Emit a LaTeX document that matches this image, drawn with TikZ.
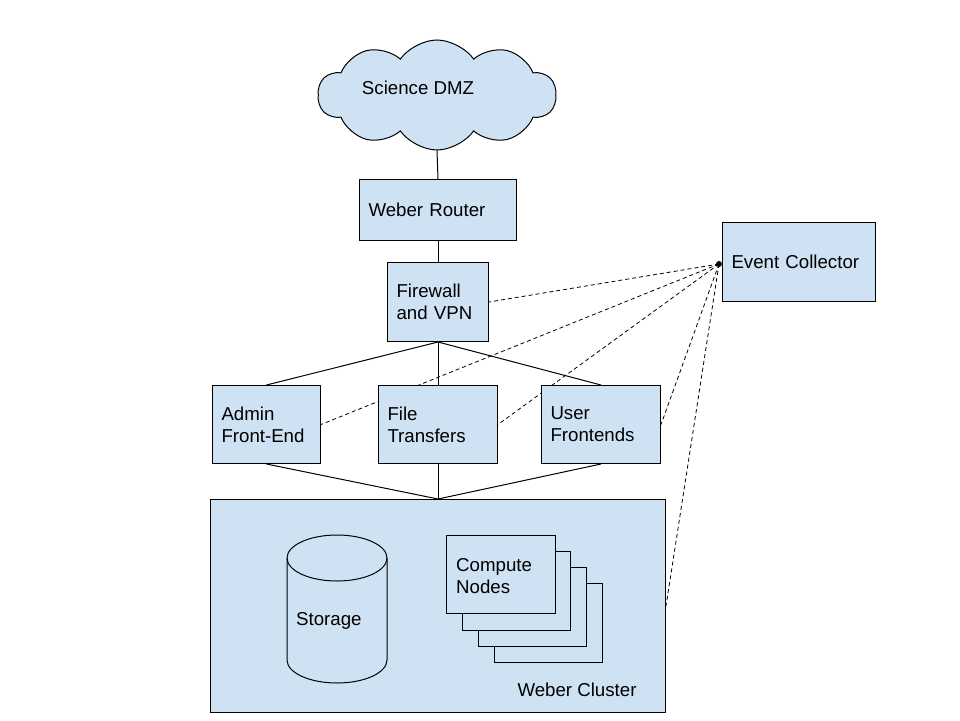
\documentclass[tikz,border=0pt]{standalone}
\usepackage{fontspec}
\setmainfont{Liberation Sans}
\usetikzlibrary{shapes.symbols,backgrounds}
\definecolor{boxblue}{HTML}{CFE2F3}
\begin{document}
\begin{tikzpicture}[x=1pt,y=-1pt,
  every node/.style={font=\fontsize{18.67}{22}\selectfont},
  box/.style={draw=black, fill=boxblue, line width=1pt, inner xsep=9pt, inner ysep=0pt,
              align=left, anchor=north west},
  plainbox/.style={draw=black, fill=boxblue, line width=1pt, inner sep=0pt, anchor=north west},
  link/.style={draw=black, line width=1pt},
  dlink/.style={draw=black, line width=0.8pt, dash pattern=on 4pt off 3pt}]
\useasboundingbox (0,0) rectangle (960,720);

% cloud
\node[cloud, draw=black, fill=boxblue, line width=1pt, cloud puffs=10, cloud puff arc=110,
      aspect=2.1, minimum width=238pt, minimum height=110pt, inner sep=0pt] (dmz) at (437,95) {};
\node[anchor=center] (dmzlbl) at (418,88) {Science DMZ};

\node[box, text width=139pt, minimum height=61pt] (router) at (359,179) {Weber Router};
\node[box, text width=83pt, minimum height=79pt] (fw) at (387,262) {Firewall\\and VPN};
\node[box, text width=135pt, minimum height=79pt] (ec) at (722,222) {Event Collector};
\node[box, text width=90pt, minimum height=78pt] (admin) at (212,385) {Admin\\Front-End};
\node[box, text width=101pt, minimum height=78pt] (ft) at (378,385) {File\\Transfers};
\node[box, text width=101pt, minimum height=78pt] (uf) at (541,385) {User\\Frontends};

% cluster
\node[plainbox, minimum width=455pt, minimum height=213pt] (cluster) at (210,499) {};
\node[anchor=west] (clusterlbl) at (514,690) {Weber Cluster};

% storage cylinder
\path[draw=black, fill=boxblue, line width=1pt]
  (287,558) -- (287,660) arc[start angle=180, end angle=0, x radius=50, y radius=23]
  -- (387,558) arc[start angle=0, end angle=-180, x radius=50, y radius=23] -- cycle;
\draw[line width=1pt] (287,558) arc[start angle=180, end angle=0, x radius=50, y radius=23];
\node[anchor=west, inner sep=0pt] (storage) at (296,621) {Storage};

% compute nodes stack
\node[plainbox, minimum width=108pt, minimum height=79pt] (cn4) at (494,583) {};
\node[plainbox, minimum width=108pt, minimum height=79pt] (cn3) at (478,567) {};
\node[plainbox, minimum width=108pt, minimum height=79pt] (cn2) at (462,551) {};
\node[box, text width=91pt, inner xsep=9pt, minimum height=78pt] (cn1) at (446,535) {};
\node[anchor=west, align=left, inner sep=0pt] (cnlbl) at (456,576) {Compute\\Nodes};

\coordinate (dot) at (719,264);
\fill (dot) circle (3pt);

\begin{pgfonlayer}{background}
  \fill[white] (0,0) rectangle (960,720);
  \path[link] (dmz.south) -- (router.north);
  \path[link] (router.south) -- (fw.north);
  \path[link] (fw.south) -- (admin.north);
  \path[link] (fw.south) -- (ft.north);
  \path[link] (fw.south) -- (uf.north);
  \path[link] (admin.south) -- (cluster.north);
  \path[link] (ft.south) -- (cluster.north);
  \path[link] (uf.south) -- (cluster.north);
  \path[dlink] (dot) -- (fw.east);
  \path[dlink] (dot) -- (admin.east);
  \path[dlink] (dot) -- (ft.east);
  \path[dlink] (dot) -- (uf.east);
  \path[dlink] (dot) -- (cluster.east);
\end{pgfonlayer}
\end{tikzpicture}
\end{document}
